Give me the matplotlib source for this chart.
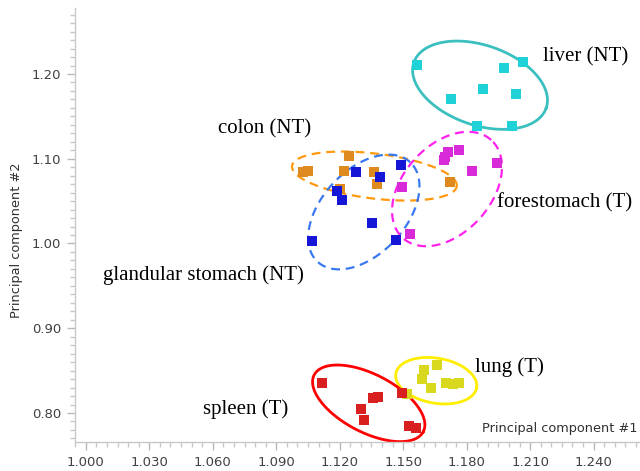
import numpy as np
import matplotlib
matplotlib.use("Agg")
import matplotlib.pyplot as plt
from matplotlib.ticker import FixedLocator, MultipleLocator, FormatStrFormatter

# principal component scores, one pair of arrays per tissue
liver_x = [1.1567, 1.2065, 1.1978, 1.1878, 1.1724, 1.2031, 1.1847, 1.2015]
liver_y = [1.2106, 1.2145, 1.2067, 1.1823, 1.1705, 1.1760, 1.1390, 1.1390]

colon_x = [1.1025, 1.1052, 1.1244, 1.1222, 1.1363, 1.1375, 1.1201, 1.1721]
colon_y = [1.0847, 1.0855, 1.1032, 1.0855, 1.0840, 1.0699, 1.0640, 1.0729]

gland_x = [1.1277, 1.1390, 1.1490, 1.1186, 1.1211, 1.1354, 1.1069, 1.1465]
gland_y = [1.0847, 1.0781, 1.0926, 1.0619, 1.0517, 1.0245, 1.0030, 1.0041]

fore_x = [1.1710, 1.1764, 1.1697, 1.1694, 1.1945, 1.1824, 1.1496, 1.1532]
fore_y = [1.1083, 1.1103, 1.1017, 1.0985, 1.0953, 1.0859, 1.0670, 1.0109]

lung_x = [1.1658, 1.1598, 1.1587, 1.1630, 1.1701, 1.1737, 1.1765, 1.1519]
lung_y = [0.8566, 0.8507, 0.8398, 0.8299, 0.8350, 0.8338, 0.8350, 0.8224]

spleen_x = [1.1118, 1.1301, 1.1316, 1.1356, 1.1382, 1.1493, 1.1527, 1.1560]
spleen_y = [0.8358, 0.8051, 0.7917, 0.8173, 0.8192, 0.8232, 0.7847, 0.7820]

x_ticks = [1.000, 1.030, 1.060, 1.090, 1.120, 1.150, 1.180, 1.210, 1.240]
y_ticks = [0.80, 0.90, 1.00, 1.10, 1.20]

# group outlines: centre (data), semi-axes in pixels, tilt in degrees
ellipses = [
    # cx, cy, a, b, angle, colour, linestyle
    (1.1863, 1.1868, 70, 40, -19, "#3bbfbf", "solid"),
    (1.1364, 1.0796, 83, 22.5, -7, "#ff9a10", "dashed"),
    (1.1314, 1.0372, 68, 42, 47, "#3a78f0", "dashed"),
    (1.1707, 1.0643, 66, 44, 48, "#ff22ee", "dashed"),
    (1.1656, 0.8381, 41, 22.5, -10, "#ffee00", "solid"),
    (1.1337, 0.8114, 61.5, 29, -27.5, "#ff0000", "solid"),
]

labels = [
    ("liver (NT)", 1.2160, 1.2201),
    ("colon (NT)", 1.0625, 1.1348),
    ("glandular stomach (NT)", 1.0080, 0.9628),
    ("forestomach (T)", 1.1945, 1.0481),
    ("lung (T)", 1.1839, 0.8546),
    ("spleen (T)", 1.0556, 0.8044),
]

fig = plt.figure(figsize=(6.4, 4.71), dpi=100)
ax = fig.add_axes([0.1172, 0.0622, 0.8828, 0.9208])
ax.set_xlim(0.9949, 1.2619)
ax.set_ylim(0.7661, 1.2779)

for s in ["top", "right"]:
    ax.spines[s].set_visible(False)
for s in ["left", "bottom"]:
    ax.spines[s].set_color("#c8c8c8")
    ax.spines[s].set_linewidth(1.0)

ax.xaxis.set_major_locator(FixedLocator(x_ticks))
ax.xaxis.set_minor_locator(MultipleLocator(0.005))
ax.yaxis.set_major_locator(FixedLocator(y_ticks))
ax.yaxis.set_minor_locator(MultipleLocator(0.01))
ax.xaxis.set_major_formatter(FormatStrFormatter("%.3f"))
ax.yaxis.set_major_formatter(FormatStrFormatter("%.2f"))
ax.tick_params(which="major", length=6, width=1, color="#b8b8b8",
               labelsize=9.5, labelcolor="#404040", pad=4)
ax.tick_params(which="minor", length=3.5, width=1, color="#c8c8c8")

# draw the ellipses in pixel space so the tilt matches the picture
fig.canvas.draw()
inv = ax.transData.inverted()
t = np.linspace(0, 2 * np.pi, 300)
for cx, cy, a, b, ang, col, ls in ellipses:
    c0 = ax.transData.transform((cx, cy))
    th = np.deg2rad(ang)
    px = c0[0] + a * np.cos(t) * np.cos(th) - b * np.sin(t) * np.sin(th)
    py = c0[1] + a * np.cos(t) * np.sin(th) + b * np.sin(t) * np.cos(th)
    pts = inv.transform(np.column_stack([px, py]))
    if ls == "dashed":
        ax.plot(pts[:, 0], pts[:, 1], color=col, lw=1.6, ls=(0, (4, 2.6)), zorder=2)
    else:
        ax.plot(pts[:, 0], pts[:, 1], color=col, lw=2.0, zorder=2)

mk = dict(marker="s", ls="none", markersize=7, markeredgewidth=0, zorder=3)
ax.plot(liver_x, liver_y, color="#1fd2d8", **mk)
ax.plot(colon_x, colon_y, color="#de8a1e", **mk)
ax.plot(fore_x, fore_y, color="#d92ad9", **mk)
ax.plot(gland_x, gland_y, color="#1616d6", **mk)
ax.plot(lung_x, lung_y, color="#d8d81e", **mk)
ax.plot(spleen_x, spleen_y, color="#d82020", **mk)

for txt, lx, ly in labels:
    ax.text(lx, ly, txt, ha="left", va="center", fontsize=15,
            family="Liberation Serif", color="black", zorder=4)

ax.text(0.995, 0.031, "Principal component #1", transform=ax.transAxes,
        ha="right", va="center", fontsize=9.3, color="#303030")
fig.text(0.026, 0.49, "Principal component #2", rotation=90,
         ha="center", va="center", fontsize=9.3, color="#303030")

fig.savefig("out.png", dpi=100)
